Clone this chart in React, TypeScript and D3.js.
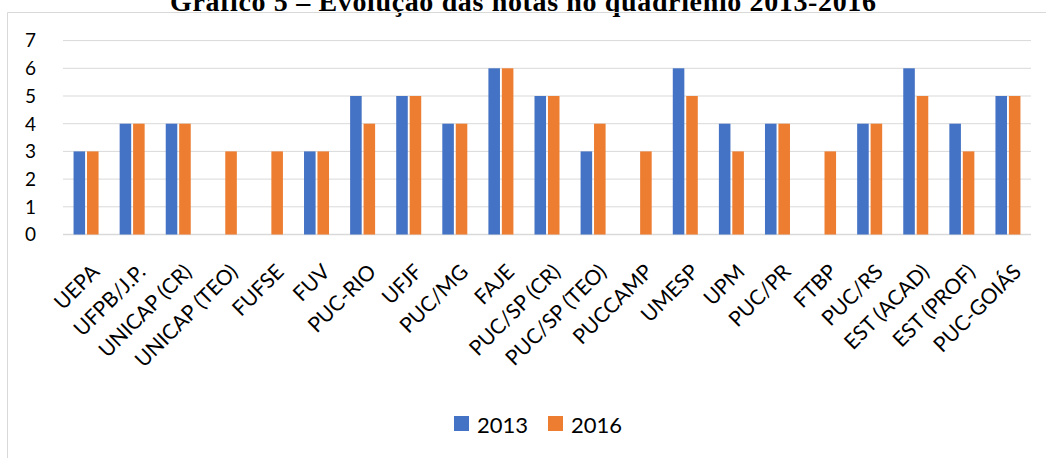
import React from "react";
import * as d3 from "d3";

const institutions = [
  "UEPA",
  "UFPB/J.P.",
  "UNICAP (CR)",
  "UNICAP (TEO)",
  "FUFSE",
  "FUV",
  "PUC-RIO",
  "UFJF",
  "PUC/MG",
  "FAJE",
  "PUC/SP (CR)",
  "PUC/SP (TEO)",
  "PUCCAMP",
  "UMESP",
  "UPM",
  "PUC/PR",
  "FTBP",
  "PUC/RS",
  "EST (ACAD)",
  "EST (PROF)",
  "PUC-GOIÁS",
];
const notas2013 = [3, 4, 4, 0, 0, 3, 5, 5, 4, 6, 5, 3, 0, 6, 4, 4, 0, 4, 6, 4, 5];
const notas2016 = [3, 4, 4, 3, 3, 3, 4, 5, 4, 6, 5, 4, 3, 5, 3, 4, 3, 4, 5, 3, 5];
const yTicks = [0, 1, 2, 3, 4, 5, 6, 7];
const seriesNames = ["2013", "2016"];

const colors = ["#4472C4", "#ED7D31"];
const font = "Lato, 'Open Sans', sans-serif";

const width = 1046;
const height = 458;
const margin = { top: 40.6, right: 15, bottom: 223.5, left: 63 };

export default function App() {
  const x = d3
    .scaleBand<string>()
    .domain(institutions)
    .range([margin.left, width - margin.right]);

  const y = d3
    .scaleLinear()
    .domain([0, 7])
    .range([height - margin.bottom, margin.top]);

  // two bars per institution, with a small gap between them
  const inner = d3
    .scaleBand<string>()
    .domain(seriesNames)
    .range([x.bandwidth() / 2 - 12.5, x.bandwidth() / 2 + 12.5])
    .paddingInner(0.14);

  const series = [notas2013, notas2016];

  return (
    <svg
      width={width}
      height={height}
      style={{ position: "absolute", left: 0, top: 0, background: "#fff" }}
    >
      <text
        x={523}
        y={10.5}
        textAnchor="middle"
        fontFamily="'Liberation Serif', serif"
        fontWeight="bold"
        fontSize={28}
        textLength={706}
        lengthAdjust="spacing"
        fill="#000"
      >
        Gráfico 5 – Evolução das notas no quadriênio 2013-2016
      </text>

      {/* chart area border */}
      <path
        d={`M7.5,${height} V12.5 H${width}`}
        fill="none"
        stroke="#D9D9D9"
        strokeWidth={1}
      />

      {yTicks.map((t) => (
        <g key={t}>
          <line
            x1={margin.left}
            x2={width - margin.right}
            y1={y(t)}
            y2={y(t)}
            stroke="#D9D9D9"
            strokeWidth={t === 0 ? 1.5 : 1}
          />
          <text
            x={36}
            y={y(t)}
            dy="0.36em"
            textAnchor="end"
            fontFamily={font}
            fontSize={19}
            fill="#000"
          >
            {t}
          </text>
        </g>
      ))}

      {series.map((vals, si) => (
        <g key={si} fill={colors[si]}>
          {institutions.map((name, i) =>
            vals[i] > 0 ? (
              <rect
                key={name}
                x={x(name)! + inner(seriesNames[si])!}
                y={y(vals[i])}
                width={inner.bandwidth()}
                height={y(0) - y(vals[i])}
              />
            ) : null
          )}
        </g>
      ))}

      {institutions.map((name) => {
        const cx = x(name)! + x.bandwidth() / 2;
        return (
          <text
            key={name}
            transform={`translate(${cx + 4},${y(0) + 28}) rotate(-45)`}
            dy="0.72em"
            textAnchor="end"
            fontFamily={font}
            fontSize={21}
            fill="#000"
          >
            {name}
          </text>
        );
      })}

      {seriesNames.map((s, i) => (
        <g key={s} transform={`translate(${454 + i * 94},0)`}>
          <rect x={0} y={416} width={15} height={15} fill={colors[i]} />
          <text x={23} y={433} fontFamily={font} fontSize={22} fill="#000">
            {s}
          </text>
        </g>
      ))}
    </svg>
  );
}
